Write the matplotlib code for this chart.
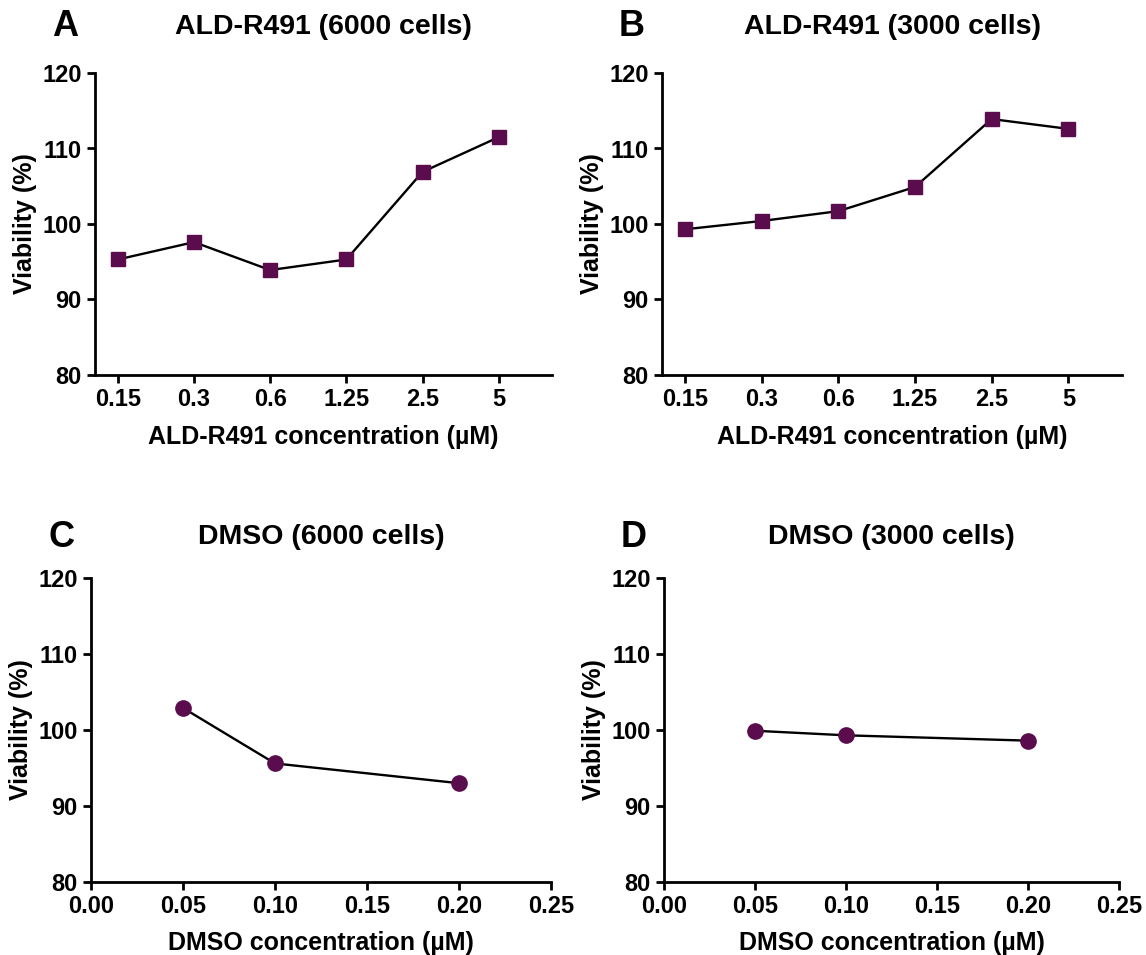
import matplotlib
matplotlib.use('Agg')
import matplotlib.pyplot as plt

plt.rcParams['font.family'] = ['Liberation Sans', 'DejaVu Sans']
plt.rcParams['font.weight'] = 'bold'

# data
ald_conc = ['0.15', '0.3', '0.6', '1.25', '2.5', '5']
ald_6000 = [95.3, 97.6, 93.9, 95.3, 106.9, 111.5]
ald_3000 = [99.3, 100.4, 101.7, 104.9, 113.9, 112.6]

dmso_conc = [0.05, 0.10, 0.20]
dmso_6000 = [102.9, 95.6, 93.0]
dmso_3000 = [99.9, 99.3, 98.6]

dmso_ticks = [0.00, 0.05, 0.10, 0.15, 0.20, 0.25]
y_ticks = [80, 90, 100, 110, 120]

purple = '#5a0c4c'

fig = plt.figure(figsize=(11.46, 9.55), dpi=100)
W, H = 1146, 955

def make_ax(left, right, top, bottom):
    return fig.add_axes([left / W, 1 - bottom / H, (right - left) / W, (bottom - top) / H])

def style(ax):
    for s in ['top', 'right']:
        ax.spines[s].set_visible(False)
    for s in ['left', 'bottom']:
        ax.spines[s].set_linewidth(2.0)
    ax.tick_params(direction='out', length=5.5, width=2.0, labelsize=17, pad=4)
    for lab in ax.get_xticklabels() + ax.get_yticklabels():
        lab.set_fontweight('bold')
    ax.set_ylim(80, 120)
    ax.set_yticks(y_ticks)
    ax.set_ylabel('Viability (%)', fontsize=18, fontweight='bold', labelpad=4)

def header(box, letter, title, y):
    cx = (box[0] + box[1]) / 2
    fig.text(cx / W, 1 - y / H, title, fontsize=20.5, fontweight='bold',
             ha='center', va='center')
    fig.text((box[0] - 43) / W, 1 - y / H, letter, fontsize=26, fontweight='bold',
             ha='left', va='center')

panels = [
    ('A', 'ALD-R491 (6000 cells)', ald_6000, (95, 552, 73, 375)),
    ('B', 'ALD-R491 (3000 cells)', ald_3000, (662, 1122, 73, 375)),
]
for letter, title, vals, box in panels:
    ax = make_ax(*box)
    xs = list(range(len(ald_conc)))
    ax.plot(xs, vals, color='black', lw=1.7, marker='s', ms=10,
            mfc=purple, mec=purple, zorder=3, clip_on=False)
    ax.set_xlim(-0.3, 5.7)
    ax.set_xticks(xs)
    ax.set_xticklabels(ald_conc)
    style(ax)
    ax.set_xlabel('ALD-R491 concentration (\u00b5M)', fontsize=18, fontweight='bold', labelpad=10)
    header(box, letter, title, 27)

panels = [
    ('C', 'DMSO (6000 cells)', dmso_6000, (91, 551, 578, 882)),
    ('D', 'DMSO (3000 cells)', dmso_3000, (664, 1119, 578, 882)),
]
for letter, title, vals, box in panels:
    ax = make_ax(*box)
    ax.plot(dmso_conc, vals, color='black', lw=1.7, marker='o', ms=11,
            mfc=purple, mec=purple, zorder=3, clip_on=False)
    ax.set_xlim(0, 0.25)
    ax.set_xticks(dmso_ticks)
    ax.set_xticklabels(['%.2f' % t for t in dmso_ticks])
    style(ax)
    ax.set_xlabel('DMSO concentration (\u00b5M)', fontsize=18, fontweight='bold', labelpad=9)
    header(box, letter, title, 537)

fig.savefig('out.png', dpi=100)
